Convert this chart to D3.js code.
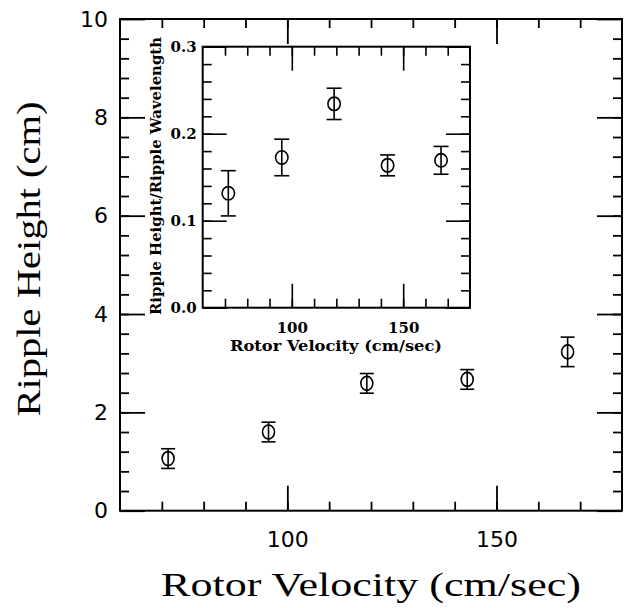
<!DOCTYPE html>
<html>
<head>
<meta charset="utf-8">
<script src="https://cdn.jsdelivr.net/npm/d3@7"></script>
<style>
  body { margin: 0; background: #fff; }
  svg { display: block; }
</style>
</head>
<body>
<script>
// data
var velocity = [71.5, 95.5, 119, 143, 167];
var rippleHeight = [1.06, 1.60, 2.59, 2.67, 3.23];
var rippleHeightErr = [0.2, 0.2, 0.2, 0.2, 0.3];
var ratio = [0.1315, 0.1727, 0.2343, 0.1636, 0.1694];
var ratioErr = [0.026, 0.021, 0.018, 0.012, 0.016];

var mainXTicks = [100, 150];
var mainYTicks = [0, 2, 4, 6, 8, 10];
var insetXTicks = [100, 150];
var insetYTicks = [0, 0.1, 0.2, 0.3];

var width = 624, height = 608;

var svg = d3.select("body").append("svg")
  .attr("width", width)
  .attr("height", height);

// ---- main plot ----
var x = d3.scaleLinear().domain([60, 180]).range([120, 622]);
var y = d3.scaleLinear().domain([0, 10]).range([510.7, 19]);

function minorTicks(lo, hi, step) {
  var out = [];
  for (var v = lo + step; v < hi - step / 2; v += step) out.push(+v.toFixed(4));
  return out;
}

// ticks point inward on all four sides, labels only bottom/left
function drawAxes(g, xs, ys, xMajor, yMajor, xMinor, yMinor, opt) {
  var x0 = xs.range()[0], x1 = xs.range()[1], y0 = ys.range()[0], y1 = ys.range()[1];
  var axes = [
    [d3.axisBottom(xs), "translate(0," + y0 + ")", xMajor, xMinor, true, "x"],
    [d3.axisTop(xs), "translate(0," + y1 + ")", xMajor, xMinor, false, "x"],
    [d3.axisLeft(ys), "translate(" + x0 + ",0)", yMajor, yMinor, true, "y"],
    [d3.axisRight(ys), "translate(" + x1 + ",0)", yMajor, yMinor, false, "y"]
  ];
  axes.forEach(function(a) {
    var axMinor = a[0].tickValues(a[3]).tickSize(-opt.minor).tickSizeOuter(0).tickFormat("");
    g.append("g").attr("transform", a[1]).call(axMinor)
      .call(function(s) { s.select(".domain").remove(); });
    var fmt = a[4] ? (a[5] === "x" ? opt.xFmt : opt.yFmt) : function() { return ""; };
    var axMajor = a[0].tickValues(a[2]).tickSize(-opt.major).tickSizeOuter(0)
      .tickFormat(fmt).tickPadding(a[5] === "x" ? opt.xPad : opt.yPad);
    g.append("g").attr("transform", a[1]).call(axMajor)
      .call(function(s) { s.select(".domain").remove(); });
  });
  g.selectAll(".tick line").attr("stroke", "#000").attr("stroke-width", opt.sw);
  g.selectAll(".tick text")
    .attr("fill", "#000")
    .style("font-family", opt.font)
    .style("font-size", opt.fontSize + "px")
    .style("font-weight", opt.weight);
  g.append("rect")
    .attr("x", x0).attr("y", y1)
    .attr("width", x1 - x0).attr("height", y0 - y1)
    .attr("fill", "none").attr("stroke", "#000").attr("stroke-width", opt.frame);
}

var mainG = svg.append("g");
drawAxes(mainG, x, y, mainXTicks, mainYTicks,
  minorTicks(60, 180, 10), minorTicks(0, 10, 0.4),
  { major: 25, minor: 9, sw: 1.8, frame: 2, xPad: 20.5, yPad: 12,
    font: "'DejaVu Sans', sans-serif", fontSize: 22, weight: "normal",
    xFmt: d3.format("d"), yFmt: d3.format("d") });

// error bars + circles
function drawPoints(g, xs, ys, xv, yv, ev, cap, rx, ry, sw) {
  var pts = g.selectAll(".pt").data(xv).enter().append("g");
  pts.append("line")
    .attr("x1", function(d) { return xs(d); })
    .attr("x2", function(d) { return xs(d); })
    .attr("y1", function(d, i) { return ys(yv[i] - ev[i]); })
    .attr("y2", function(d, i) { return ys(yv[i] + ev[i]); })
    .attr("stroke", "#000").attr("stroke-width", sw);
  [-1, 1].forEach(function(s) {
    pts.append("line")
      .attr("x1", function(d) { return xs(d) - cap; })
      .attr("x2", function(d) { return xs(d) + cap; })
      .attr("y1", function(d, i) { return ys(yv[i] + s * ev[i]); })
      .attr("y2", function(d, i) { return ys(yv[i] + s * ev[i]); })
      .attr("stroke", "#000").attr("stroke-width", sw);
  });
  pts.append("ellipse")
    .attr("cx", function(d) { return xs(d); })
    .attr("cy", function(d, i) { return ys(yv[i]); })
    .attr("rx", rx).attr("ry", ry)
    .attr("fill", "none").attr("stroke", "#000").attr("stroke-width", sw);
}

drawPoints(mainG, x, y, velocity, rippleHeight, rippleHeightErr, 7, 6, 7, 1.6);

mainG.append("text")
  .attr("x", 371).attr("y", 596)
  .attr("text-anchor", "middle")
  .attr("textLength", 420).attr("lengthAdjust", "spacingAndGlyphs")
  .style("font-family", "'Liberation Serif', serif")
  .style("font-size", "34px")
  .text("Rotor Velocity (cm/sec)");

mainG.append("text")
  .attr("transform", "translate(40,259) rotate(-90)")
  .attr("text-anchor", "middle")
  .attr("textLength", 315).attr("lengthAdjust", "spacingAndGlyphs")
  .style("font-family", "'Liberation Serif', serif")
  .style("font-size", "34px")
  .text("Ripple Height (cm)");

// ---- inset ----
var xi = d3.scaleLinear().domain([60, 180]).range([202.7, 470]);
var yi = d3.scaleLinear().domain([0, 0.3]).range([307.7, 46.7]);

var insetG = svg.append("g");
insetG.append("rect")
  .attr("x", 202.7).attr("y", 46.7)
  .attr("width", 470 - 202.7).attr("height", 307.7 - 46.7)
  .attr("fill", "#fff");

drawAxes(insetG, xi, yi, insetXTicks, insetYTicks,
  minorTicks(60, 180, 10), minorTicks(0, 0.3, 0.02),
  { major: 24, minor: 9, sw: 1.6, frame: 2, xPad: 15, yPad: 6,
    font: "'DejaVu Serif', serif", fontSize: 15, weight: "bold",
    xFmt: d3.format("d"), yFmt: d3.format(".1f") });

drawPoints(insetG, xi, yi, velocity, ratio, ratioErr, 7.5, 6.2, 6.7, 1.6);

insetG.append("text")
  .attr("x", 336).attr("y", 351)
  .attr("text-anchor", "middle")
  .attr("textLength", 212).attr("lengthAdjust", "spacingAndGlyphs")
  .style("font-family", "'DejaVu Serif', serif")
  .style("font-size", "14px").style("font-weight", "bold")
  .text("Rotor Velocity (cm/sec)");

insetG.append("text")
  .attr("transform", "translate(161,176) rotate(-90)")
  .attr("text-anchor", "middle")
  .attr("textLength", 278).attr("lengthAdjust", "spacingAndGlyphs")
  .style("font-family", "'DejaVu Serif', serif")
  .style("font-size", "14px").style("font-weight", "bold")
  .text("Ripple Height/Ripple Wavelength");
</script>
</body>
</html>
